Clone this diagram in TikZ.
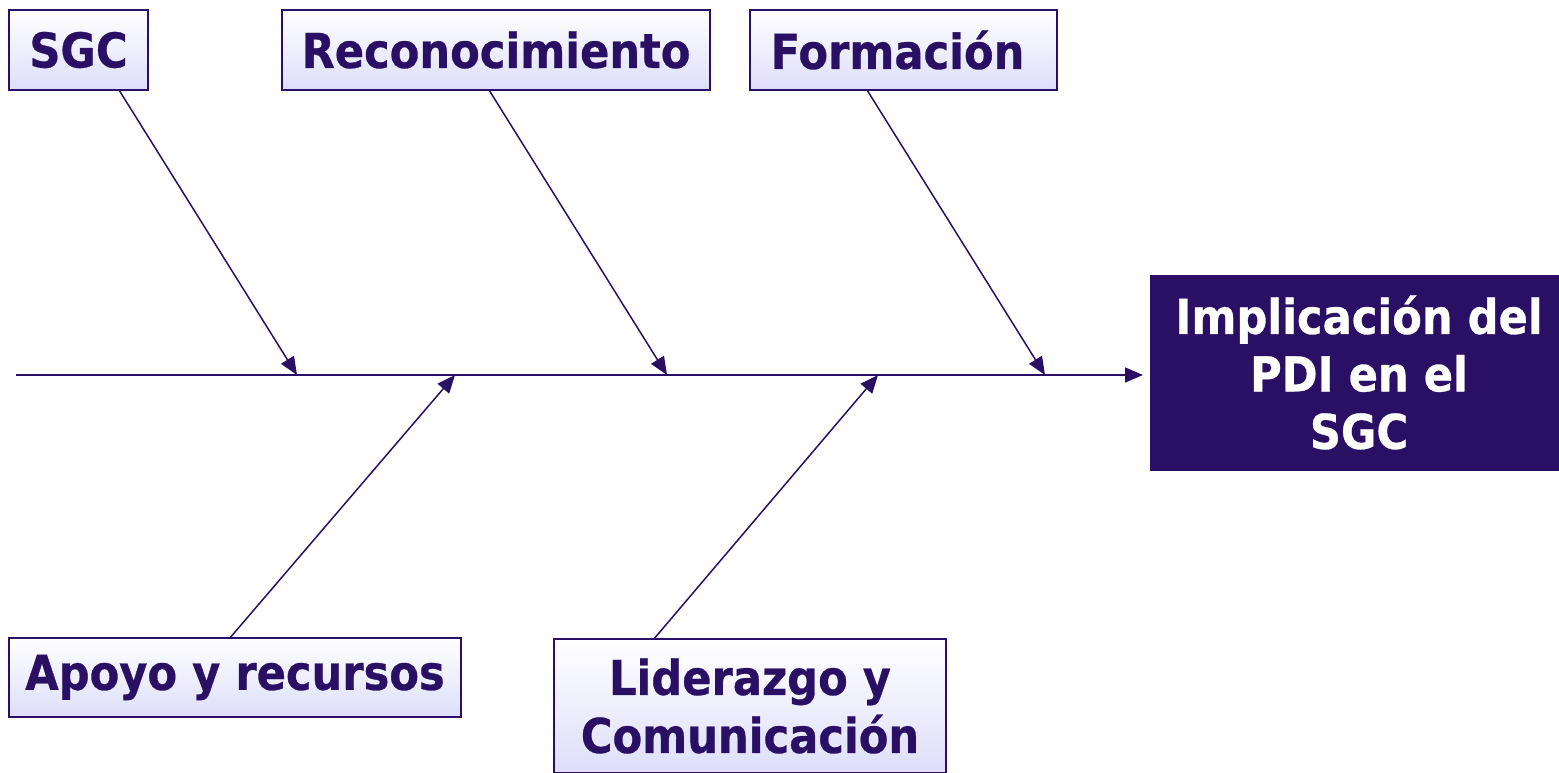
\documentclass[tikz,border=0pt]{standalone}
\usepackage{fontspec}
\setmainfont{DejaVu Sans}[FakeStretch=0.9, BoldFeatures={FakeBold=0.6}]
\usetikzlibrary{arrows.meta}
\definecolor{navy}{RGB}{41,16,100}
\definecolor{lav}{RGB}{222,222,250}
\tikzset{
  cause/.style={draw=navy, line width=1.2pt, top color=white, bottom color=lav, shading angle=0,
    inner sep=0pt, font=\fontsize{48}{58}\selectfont\bfseries, text=navy, align=center},
  effect/.style={fill=navy, draw=navy, inner sep=0pt, text=white, align=center,
    font=\fontsize{48}{57.5}\selectfont\bfseries},
  bone/.style={draw=navy, line width=1.5pt, -{Triangle[length=18pt,width=15pt]}},
}
\begin{document}
\begin{tikzpicture}[x=1pt,y=-1pt]
\useasboundingbox (0,0) rectangle (1559,772);
% boxes
\node[cause, minimum width=139pt, minimum height=80pt] (sgc) at (78.5,50) {SGC};
\node[cause, minimum width=428pt, minimum height=80pt] (rec) at (496,50) {Reconocimiento};
\node[cause, minimum width=307pt, minimum height=80pt] (for) at (903.5,50) {Formación\hspace{12pt}};
\node[cause, minimum width=452pt, minimum height=79pt] (apo) at (235,677.5) {Apoyo y recursos};
\node[cause, minimum width=392pt, minimum height=134pt] (lid) at (750,706) {Liderazgo y\\Comunicación};
\node[effect, minimum width=410pt, minimum height=195pt] (eff) at (1355,372.5) {\hspace{8pt}Implicación del\\\hspace{8pt}PDI en el\\\hspace{8pt}SGC};
% spine
\coordinate (s0) at (16,375);
\coordinate (p1) at (297,375);
\coordinate (p2) at (667,375);
\coordinate (p3) at (1045,375);
\coordinate (q1) at (455,375);
\coordinate (q2) at (878,375);
\coordinate (tip) at (1143,375);
\draw[bone] (s0) -- (tip);
\draw[bone] (sgc.south west) ++(111,0) coordinate (a1) (a1) -- (p1);
\draw[bone] (rec.south west) ++(208,0) coordinate (a2) (a2) -- (p2);
\draw[bone] (for.south west) ++(118,0) coordinate (a3) (a3) -- (p3);
\draw[bone] (apo.north west) ++(222,0) coordinate (b1) (b1) -- (q1);
\draw[bone] (lid.north west) ++(101,0) coordinate (b2) (b2) -- (q2);
\end{tikzpicture}
\end{document}
